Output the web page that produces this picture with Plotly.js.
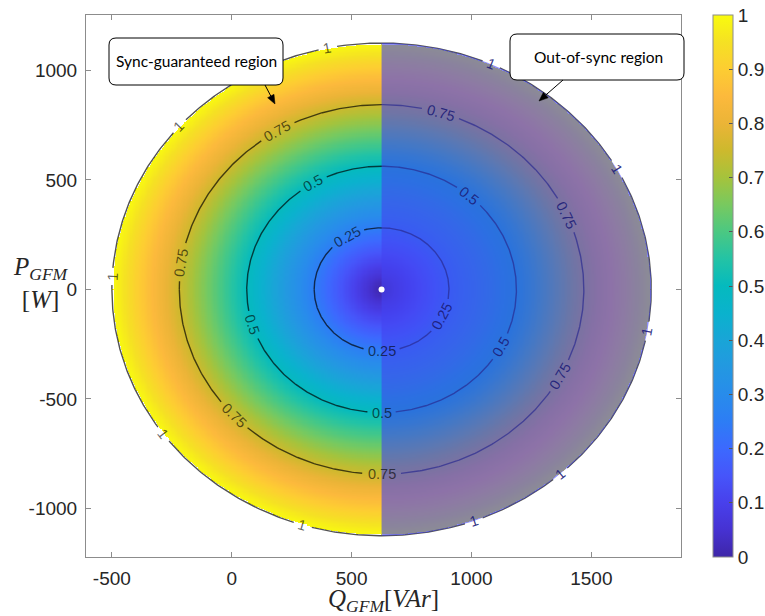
<!DOCTYPE html>
<html>
<head>
<meta charset="utf-8">
<script src="https://cdn.plot.ly/plotly-3.0.1.min.js"></script>
<style>html,body{margin:0;padding:0;background:#fff;}#chart{width:765px;height:616px;}</style>
</head>
<body>
<div id="chart"></div>
<script>
// ---- values ----
const centerQ = 625;          // VAr, centre of the capability circle
const centerP = 0;            // W
const radiusS = 1125;         // circle radius (normalised value 1)
const contourLevels = [0.25, 0.5, 0.75, 1];
const xTickVals = [-500, 0, 500, 1000, 1500];
const xTickText = ['-500', '0', '500', '1000', '1500'];
const yTickVals = [-1000, -500, 0, 500, 1000];
const yTickText = ['-1000', '-500', '0', '500', '1000'];
const cbTickVals = [0, 0.1, 0.2, 0.3, 0.4, 0.5, 0.6, 0.7, 0.8, 0.9, 1];
const cbTickText = ['0', '0.1', '0.2', '0.3', '0.4', '0.5', '0.6', '0.7', '0.8', '0.9', '1'];
const xRange = [-608, 1874];
const yRange = [-1222, 1253];
const labelSync = 'Sync-guaranteed region';
const labelOut = 'Out-of-sync region';

// where the contour labels sit (angle in degrees on each contour)
const labelAngles025 = [121, 270, -25.8];
const labelAngles050 = [120.5, 196.7, 270, 49.4, -27.9];
const labelAngles075 = [121, 171.6, 223, 270, 73, 23.9, -28];
const labelAngles100 = [101.6, 138.6, 177, 215.9, 252.9, 66, 29.3, -9.8, -48.5, -70];
const labelAngles = [labelAngles025, labelAngles050, labelAngles075, labelAngles100];

// parula-like colour scale sampled from the colour bar
const parula = [
  [0.00, 'rgb(62,38,168)'], [0.05, 'rgb(70,50,210)'], [0.10, 'rgb(72,64,235)'],
  [0.15, 'rgb(70,85,250)'], [0.20, 'rgb(60,105,254)'], [0.25, 'rgb(45,125,245)'],
  [0.30, 'rgb(40,140,235)'], [0.35, 'rgb(35,152,225)'], [0.40, 'rgb(25,165,215)'],
  [0.45, 'rgb(10,178,205)'], [0.50, 'rgb(5,186,190)'], [0.55, 'rgb(35,195,165)'],
  [0.60, 'rgb(75,200,130)'], [0.65, 'rgb(120,201,95)'], [0.70, 'rgb(165,195,60)'],
  [0.75, 'rgb(205,185,45)'], [0.80, 'rgb(235,180,55)'], [0.85, 'rgb(252,185,60)'],
  [0.90, 'rgb(253,205,50)'], [0.95, 'rgb(245,225,35)'], [1.00, 'rgb(249,251,14)']
];

// ---- layout geometry (pixels) ----
const L = 86, T = 15, W = 595, H = 542;
const kx = W / (xRange[1] - xRange[0]);
const ky = H / (yRange[1] - yRange[0]);
const px = v => (v - L) / W;
const py = v => (T + H - v) / H;

// ---- field table built for the library ----
function norm(q, p) { return Math.hypot(q - centerQ, p - centerP) / radiusS; }
const N = 450;
const hx = [], hy = [];
for (let i = 0; i <= N; i++) {
  hx.push(centerQ - radiusS + 2 * radiusS * i / N);
  hy.push(centerP - radiusS + 2 * radiusS * i / N);
}
const edgeCut = 1 - 2 / N;   // keep the square cells inside the circle edge
const hz = hy.map(p => hx.map(q => { const v = norm(q, p); return v <= edgeCut ? v : null; }));

// ---- contour lines (iso-value circles) with gaps for labels ----
const labelFont = 14.5;
const lineTraces = [];
const labelAnns = [];
contourLevels.forEach((lev, li) => {
  const rr = lev * radiusS;
  const a = rr * kx, b = rr * ky;
  const txt = String(lev);
  const wpx = labelFont * (0.556 * txt.replace('.', '').length + (txt.includes('.') ? 0.278 : 0));
  const gaps = labelAngles[li].map(t0 => {
    const th = t0 * Math.PI / 180;
    const sp = Math.hypot(a * Math.sin(th), b * Math.cos(th));
    return { c: th, h: (wpx / 2 + 4) / sp };
  });
  const xs = [], ys = [];
  let prevGap = false;
  for (let d = -180; d <= 180.001; d += 0.5) {
    const th = d * Math.PI / 180;
    const inGap = gaps.some(g => {
      let df = th - g.c;
      df = Math.atan2(Math.sin(df), Math.cos(df));
      return Math.abs(df) < g.h;
    });
    if (inGap) {
      if (!prevGap) { xs.push(null); ys.push(null); }
      prevGap = true;
      continue;
    }
    prevGap = false;
    xs.push(centerQ + rr * Math.cos(th));
    ys.push(centerP + rr * Math.sin(th));
  }
  lineTraces.push({
    type: 'scatter', mode: 'lines', x: xs, y: ys, connectgaps: false,
    line: { color: 'rgba(0,0,0,0.68)', width: 1.4 }, hoverinfo: 'skip', showlegend: false
  });
  labelAngles[li].forEach(t0 => {
    const th = t0 * Math.PI / 180;
    const dX = -a * Math.sin(th), dY = -b * Math.cos(th);
    let ang = Math.atan2(dY, dX) * 180 / Math.PI;
    if (ang > 90) ang -= 180;
    if (ang < -90) ang += 180;
    const right = Math.cos(th) > 0.05;
    labelAnns.push({
      xref: 'x', yref: 'y', x: centerQ + rr * Math.cos(th), y: centerP + rr * Math.sin(th),
      text: txt, showarrow: false, textangle: ang, xanchor: 'center', yanchor: 'middle',
      font: { family: 'Liberation Sans, Arial, sans-serif', size: labelFont,
              color: right ? 'rgba(28,28,120,0.9)' : 'rgba(0,0,0,0.62)' }
    });
  });
});

// overlay (right half of the circle)
const ox = [], oy = [];
for (let d = -90; d <= 90; d += 0.5) {
  const t = d * Math.PI / 180;
  ox.push(centerQ + radiusS * Math.cos(t));
  oy.push(centerP + radiusS * Math.sin(t));
}

const traces = [
  {
    type: 'heatmap', x: hx, y: hy, z: hz, zmin: 0, zmax: 1,
    colorscale: parula, zsmooth: false, hoverinfo: 'skip',
    colorbar: {
      x: 1.0538, xanchor: 'left', xpad: 0, y: 0.5, yanchor: 'middle', ypad: 0,
      len: 1, lenmode: 'fraction', thickness: 20, thicknessmode: 'pixels',
      outlinecolor: '#8c8c8c', outlinewidth: 1,
      tickmode: 'array', tickvals: cbTickVals, ticktext: cbTickText,
      ticks: 'inside', ticklen: 4, tickcolor: '#555',
      tickfont: { family: 'Liberation Sans, Arial, sans-serif', size: 19, color: '#262626' }
    }
  }
].concat(lineTraces).concat([
  {
    type: 'scatter', mode: 'lines', x: ox, y: oy, fill: 'toself',
    fillcolor: 'rgba(67,66,240,0.6)', line: { width: 0, color: 'rgba(0,0,0,0)' },
    hoverinfo: 'skip', showlegend: false
  },
  {
    type: 'scatter', mode: 'markers', x: [centerQ], y: [centerP],
    marker: { color: '#ffffff', size: 6 }, hoverinfo: 'skip', showlegend: false
  }
]);

function roundBox(x0p, y0p, x1p, y1p, r) {
  const x0 = px(x0p), x1 = px(x1p), yt = py(y0p), yb = py(y1p);
  const rx = r / W, ry = r / H;
  return 'M ' + (x0 + rx) + ' ' + yt +
    ' L ' + (x1 - rx) + ' ' + yt + ' Q ' + x1 + ' ' + yt + ' ' + x1 + ' ' + (yt - ry) +
    ' L ' + x1 + ' ' + (yb + ry) + ' Q ' + x1 + ' ' + yb + ' ' + (x1 - rx) + ' ' + yb +
    ' L ' + (x0 + rx) + ' ' + yb + ' Q ' + x0 + ' ' + yb + ' ' + x0 + ' ' + (yb + ry) +
    ' L ' + x0 + ' ' + (yt - ry) + ' Q ' + x0 + ' ' + yt + ' ' + (x0 + rx) + ' ' + yt + ' Z';
}
function arrowShapes(tx, ty, hx_, hy_) {
  const len = Math.hypot(hx_ - tx, hy_ - ty);
  const ux = (hx_ - tx) / len, uy = (hy_ - ty) / len;
  const nx = -uy, ny = ux;
  const hl = 9, hw = 3.6;
  const bx = hx_ - hl * ux, by = hy_ - hl * uy;
  return [
    { type: 'line', xref: 'paper', yref: 'paper', layer: 'above',
      x0: px(tx), y0: py(ty), x1: px(bx), y1: py(by), line: { color: '#000', width: 1 } },
    { type: 'path', xref: 'paper', yref: 'paper', layer: 'above',
      path: 'M ' + px(hx_) + ' ' + py(hy_) + ' L ' + px(bx + hw * nx) + ' ' + py(by + hw * ny) +
            ' L ' + px(bx - hw * nx) + ' ' + py(by - hw * ny) + ' Z',
      fillcolor: '#000', line: { color: '#000', width: 0.5 } }
  ];
}

const axisCommon = {
  showline: true, linecolor: '#8c8c8c', linewidth: 1, mirror: 'ticks',
  ticks: 'inside', ticklen: 5, tickcolor: '#8c8c8c', showgrid: false, zeroline: false,
  tickmode: 'array', tickfont: { family: 'Liberation Sans, Arial, sans-serif', size: 19, color: '#262626' }
};

const layout = {
  width: 765, height: 616,
  margin: { l: L, r: 765 - L - W, t: T, b: 616 - T - H, pad: 0, autoexpand: false },
  paper_bgcolor: '#ffffff', plot_bgcolor: '#ffffff',
  showlegend: false,
  xaxis: Object.assign({}, axisCommon, { range: xRange, tickvals: xTickVals, ticktext: xTickText, ticklabelstandoff: 4 }),
  yaxis: Object.assign({}, axisCommon, { range: yRange, tickvals: yTickVals, ticktext: yTickText, ticklabelstandoff: 4 }),
  shapes: [
    { type: 'path', xref: 'paper', yref: 'paper', layer: 'above', path: roundBox(109, 38, 283, 85, 7),
      fillcolor: '#ffffff', line: { color: '#000000', width: 1 } },
    { type: 'path', xref: 'paper', yref: 'paper', layer: 'above', path: roundBox(510, 34, 684, 80, 7),
      fillcolor: '#ffffff', line: { color: '#000000', width: 1 } }
  ].concat(arrowShapes(265, 85, 275, 104)).concat(arrowShapes(563, 80, 539, 101)),
  annotations: labelAnns.concat([
    { xref: 'paper', yref: 'paper', x: px(196), y: py(61), text: labelSync, showarrow: false,
      xanchor: 'center', yanchor: 'middle', font: { family: 'Lato, Open Sans, sans-serif', size: 15.5, color: '#000' } },
    { xref: 'paper', yref: 'paper', x: px(598), y: py(57), text: labelOut, showarrow: false,
      xanchor: 'center', yanchor: 'middle', font: { family: 'Lato, Open Sans, sans-serif', size: 15.5, color: '#000' } },
    { xref: 'paper', yref: 'paper', x: px(383), y: py(600), showarrow: false, xanchor: 'center', yanchor: 'middle',
      text: '<i>Q</i><sub><i>GFM</i></sub>[<i>VAr</i>]',
      font: { family: 'Liberation Serif, DejaVu Serif, serif', size: 25, color: '#262626' } },
    { xref: 'paper', yref: 'paper', x: px(41), y: py(283), showarrow: false, xanchor: 'center', yanchor: 'middle',
      text: '<i>P</i><sub><i>GFM</i></sub><br>[<i>W</i>]',
      font: { family: 'Liberation Serif, DejaVu Serif, serif', size: 25, color: '#262626' } }
  ])
};

Plotly.newPlot('chart', traces, layout, { displayModeBar: false, staticPlot: true });
</script>
</body>
</html>
